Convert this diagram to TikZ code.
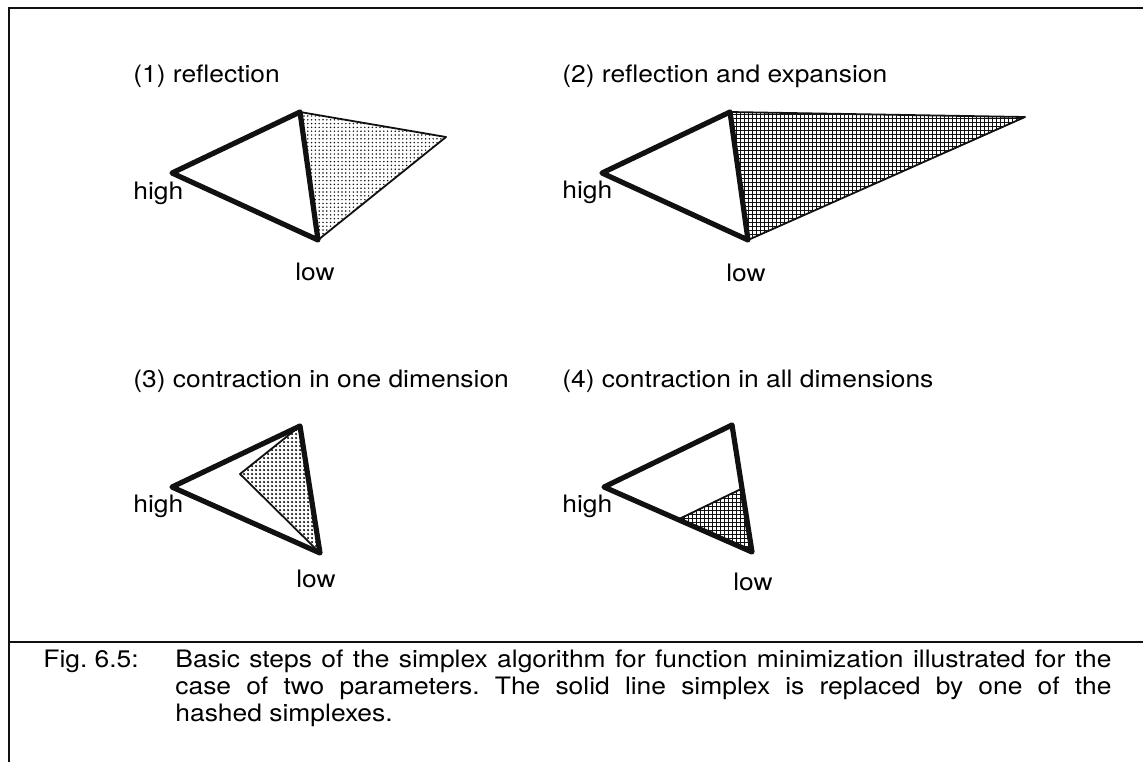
\documentclass[tikz,border=0pt]{standalone}
\usepackage{fontspec}
\setmainfont[FakeStretch=1.1]{TeX Gyre Heros}
\usepackage{xcolor}
\definecolor{ink}{HTML}{111111}
\usepackage{tikz}
\usetikzlibrary{patterns.meta,positioning,calc}
\tikzset{
  simp/.style={draw=ink,line width=2.6pt,line join=round,line cap=round},
  hsimp/.style={draw=ink,line width=0.9pt,line join=round},
  pdots/.style={pattern={Dots[distance=1.9pt,radius=0.42pt]},pattern color=ink},
  pdense/.style={pattern={Dots[distance=2pt,radius=0.62pt]},pattern color=ink},
  pgrid/.style={pattern={Hatch[angle=0,distance=2pt,line width=0.35pt]},pattern color=ink},
  ttl/.style={font=\fontsize{12}{14}\selectfont,anchor=base west,inner sep=0pt},
  lbl/.style={ttl},
  lowlbl/.style={ttl,anchor=base},
  figcap/.style={font=\fontsize{12}{13.5}\selectfont\frenchspacing,anchor=base west,inner sep=0pt},
  frm/.style={draw=ink,line width=0.8pt},
}

\begin{document}
\begin{tikzpicture}[x=0.5pt,y=-0.5pt]
\useasboundingbox (0,0) rectangle (1143,762);
% frame
\coordinate (fa) at (9,762); \coordinate (fb) at (9,8); \coordinate (fc) at (1143,8);
\coordinate (da) at (9,642); \coordinate (db) at (1143,642);
\draw[frm] (fa) -- (fb) -- (fc);
\draw[frm] (da) -- (db);

% (1) reflection
\node[ttl] (ttl1) at (133,82) {(1) reflection};
\coordinate (h1) at (172,173); \coordinate (t1) at (300,112); \coordinate (l1) at (318,240);
\coordinate (r1) at (446,137);
\draw[hsimp,pdots] (t1) -- (r1) -- (l1) -- cycle;
\draw[simp] (h1) -- (t1) -- (l1) -- cycle;
\node[lbl] (hi1) at (133,199) {high};
\node[lowlbl] (lo1) at (315,280) {low};

% (2) reflection and expansion
\node[ttl] (ttl2) at (562,82) {(2) reflection and expansion};
\coordinate (h2) at (602,173); \coordinate (t2) at (730,112); \coordinate (l2) at (748,240);
\coordinate (e2) at (1025,117);
\draw[hsimp,pgrid] (t2) -- (e2) -- (l2) -- cycle;
\draw[simp] (h2) -- (t2) -- (l2) -- cycle;
\node[lbl] (hi2) at (562,198) {high};
\node[lowlbl] (lo2) at (746,281) {low};

% (3) contraction in one dimension
\node[ttl] (ttl3) at (133,387) {(3) contraction in one dimension};
\coordinate (h3) at (172,487); \coordinate (t3) at (300,426); \coordinate (l3) at (320,553);
\coordinate (c3) at (240,474);
\draw[hsimp,pdense] (t3) -- (c3) -- (l3) -- cycle;
\draw[simp] (h3) -- (t3) -- (l3) -- cycle;
\node[lbl] (hi3) at (133,512) {high};
\node[lowlbl] (lo3) at (316,587) {low};

% (4) contraction in all dimensions
\node[ttl] (ttl4) at (562,387) {(4) contraction in all dimensions};
\coordinate (h4) at (604,487); \coordinate (t4) at (732,425); \coordinate (l4) at (752,552);
\coordinate (m4) at ($(h4)!0.5!(l4)$); \coordinate (n4) at ($(t4)!0.5!(l4)$);
\draw[hsimp,pgrid] (m4) -- (n4) -- (l4) -- cycle;
\draw[simp] (h4) -- (t4) -- (l4) -- cycle;
\node[lbl] (hi4) at (562,512) {high};
\node[lowlbl] (lo4) at (753,590) {low};

% caption
\node[figcap] (fig) at (43,667) {Fig. 6.5:};
\node[figcap,text width=468pt,align=justify] (captxt) at (175,667) {Basic steps of the simplex algorithm for function minimization illustrated for the\linebreak case of two parameters. The solid line simplex is replaced by one of the\linebreak hashed simplexes.};
\end{tikzpicture}
\end{document}
